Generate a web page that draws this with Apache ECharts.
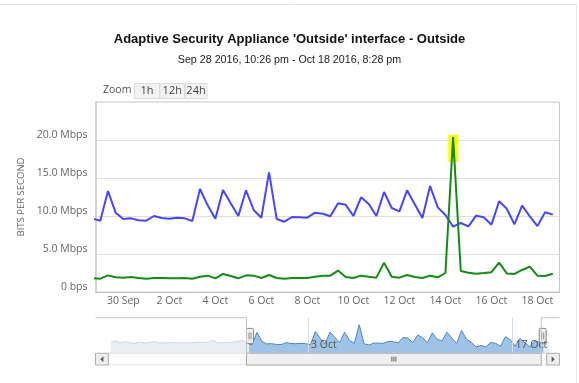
<!DOCTYPE html>
<html>
<head>
<meta charset="utf-8">
<script src="https://cdn.jsdelivr.net/npm/echarts@6/dist/echarts.min.js"></script>
<style>
html,body{margin:0;padding:0;background:#fff;}
#chart{width:579px;height:383px;}
</style>
</head>
<body>
<div id="chart"></div>
<script>
// ---------------- data ----------------
const titleText = "Adaptive Security Appliance 'Outside' interface - Outside";
const subtitleText = "Sep 28 2016, 10:26 pm - Oct 18 2016, 8:28 pm";
const yAxisName = "BITS PER SECOND";

// main series: 8-hour points starting Sep 28 2016 16:00
const seriesStart = Date.UTC(2016, 8, 28, 16);
const stepHours = 8;
const blueValues = [9.65, 9.38, 13.29, 10.44, 9.61, 9.69, 9.43, 9.38, 10.0, 9.74,
  9.65, 9.78, 9.69, 9.34, 13.55, 11.4, 9.65, 13.42, 11.67, 10.0,
  13.38, 10.79, 9.78, 15.75, 9.61, 9.25, 9.87, 9.83, 9.78, 10.44,
  10.3, 9.96, 11.67, 11.47, 10.0, 12.46, 11.58, 10.0, 13.16, 11.05,
  10.61, 13.38, 11.54, 9.74, 13.95, 11.14, 10.13, 8.6, 9.08, 8.64,
  10.04, 9.83, 8.86, 11.93, 10.96, 8.9, 11.36, 9.96, 8.68, 10.49, 10.18];
const greenValues = [1.82, 1.75, 2.19, 1.93, 1.89, 1.97, 1.84, 1.75, 1.84, 1.84,
  1.8, 1.8, 1.84, 1.75, 2.0, 2.15, 1.8, 2.37, 2.1, 1.8,
  2.19, 2.15, 1.84, 2.24, 1.84, 1.75, 1.84, 1.84, 1.84, 2.0,
  2.15, 2.15, 2.82, 1.97, 1.84, 2.15, 2.0, 1.89, 3.86, 2.02,
  1.89, 2.24, 1.97, 1.84, 2.15, 1.93, 2.5, 20.4, 2.76, 2.54,
  2.41, 2.5, 2.6, 3.86, 2.45, 2.37, 2.9, 3.33, 2.15, 2.11, 2.41];

// navigator history (same 8h grid): before and after the main series
const navStart = Date.UTC(2016, 8, 19, 8);
const navPreValues = [10.1, 10.5, 10.0, 10.3, 9.9, 9.8, 10.2, 9.9, 10.0, 10.4,
  9.9, 9.9, 10.0, 10.0, 9.9, 10.0, 9.9, 10.0, 10.2, 10.0,
  10.1, 10.8, 9.9, 10.0, 10.0, 10.2, 10.3, 10.8];
const navPostValues = [10.3, 10.0];

// visible window
const viewStart = Date.UTC(2016, 8, 28, 19);
const viewEnd = Date.UTC(2016, 9, 18, 23);

// axis ticks
const yTickValues = [0, 5, 10, 15, 20];
const yTickLabels = ['0 bps', '5.0 Mbps', '10.0 Mbps', '15.0 Mbps', '20.0 Mbps'];
const xTickDates = [[8,30],[9,2],[9,4],[9,6],[9,8],[9,10],[9,12],[9,14],[9,16],[9,18]];
const xTickLabels = ['30 Sep','2 Oct','4 Oct','6 Oct','8 Oct','10 Oct','12 Oct','14 Oct','16 Oct','18 Oct'];
const navTickDates = [[9,3],[9,17]];
const navTickLabels = ['3 Oct', '17 Oct'];
const zoomButtons = ['1h', '12h', '24h'];

// highlighted spike region (data coordinates)
const highlightFrom = Date.UTC(2016, 9, 14, 3);
const highlightTo = Date.UTC(2016, 9, 14, 13, 30);
const highlightLow = 17.1;
const highlightHigh = 20.7;

// ---------------- build ----------------
const stepMs = stepHours * 3600 * 1000;
const mainTimes = blueValues.map((_, i) => seriesStart + i * stepMs);
const blueData = blueValues.map((v, i) => [mainTimes[i], v]);
const greenData = greenValues.map((v, i) => [mainTimes[i], v]);
const navValues = navPreValues.concat(blueValues, navPostValues);
const navData = navValues.map((v, i) => [navStart + i * stepMs, v]);
const navMin = navData[0][0];
const navMax = navData[navData.length - 1][0];
const xTickTimes = xTickDates.map(d => Date.UTC(2016, d[0], d[1]));
const navTickTimes = navTickDates.map(d => Date.UTC(2016, d[0], d[1]));

const FONT = '"Open Sans", "DejaVu Sans", sans-serif';
const W = 579;
const plotLeft = 95.5, plotRight = 559.5, plotTop = 102, plotBottom = 292;
const navLeft = 108.3, navRight = 546.7, navTop = 317.7, navBottom = 353.3;

const chart = echarts.init(document.getElementById('chart'), null, {renderer: 'canvas'});

function lookup(ticks, labels, tol) {
  return v => { for (let i = 0; i < ticks.length; i++) { if (Math.abs(ticks[i] - v) <= tol) return labels[i]; } return ''; };
}

const option = {
  animation: false,
  backgroundColor: '#ffffff',
  title: [
    {text: titleText, left: 'center', top: 33, padding: 0,
     textStyle: {fontFamily: '"Liberation Sans", Arial, sans-serif', fontSize: 13, fontWeight: 'bold', color: '#111'}},
    {text: subtitleText, left: 'center', top: 55, padding: 0,
     textStyle: {fontFamily: '"Liberation Sans", Arial, sans-serif', fontSize: 10.7, fontWeight: 'normal', color: '#222'}}
  ],
  grid: [
    {left: plotLeft, right: W - plotRight, top: plotTop, height: plotBottom - plotTop,
     show: true, borderColor: '#c8c8c8', borderWidth: 1, backgroundColor: 'transparent'},
    {left: navLeft, right: W - navRight, top: navTop, height: navBottom - navTop, show: false}
  ],
  xAxis: [
    {type: 'value', gridIndex: 0, scale: true,
     axisLine: {show: true, lineStyle: {color: '#c8c8c8'}},
     axisTick: {show: false},
     splitLine: {show: false},
     axisLabel: {customValues: xTickTimes, margin: 4, color: '#666', fontFamily: FONT, fontSize: 10.5,
       formatter: lookup(xTickTimes, xTickLabels, 1000)}},
    {type: 'value', gridIndex: 1, min: navMin, max: navMax, z: 10,
     axisLine: {show: false},
     splitLine: {show: false},
     axisTick: {show: true, inside: true, length: navBottom - navTop, customValues: navTickTimes,
       lineStyle: {color: '#d4dce6', width: 1}},
     axisLabel: {show: true, inside: true, customValues: navTickTimes, margin: 3, align: 'left',
       padding: [0, 0, 0, 3], color: '#555', fontFamily: FONT, fontSize: 10.5,
       formatter: lookup(navTickTimes, navTickLabels, 1000)}}
  ],
  yAxis: [
    {type: 'value', gridIndex: 0, min: 0, max: 25, interval: 5,
     name: yAxisName, nameLocation: 'middle', nameGap: 63,
     nameTextStyle: {color: '#666', fontFamily: FONT, fontSize: 9.5},
     axisLine: {show: true, lineStyle: {color: '#d4d4d4', width: 2}},
     axisTick: {show: false},
     splitLine: {show: true, lineStyle: {color: '#e0e0e0', width: 1}},
     axisLabel: {margin: 8, color: '#666', fontFamily: FONT, fontSize: 10.5,
       verticalAlign: 'bottom', lineHeight: 10,
       formatter: lookup(yTickValues, yTickLabels, 1e-6)}},
    {type: 'value', gridIndex: 1, min: 0, max: 1, show: false}
  ],
  dataZoom: [{
    type: 'slider', xAxisIndex: 0, filterMode: 'none',
    startValue: viewStart, endValue: viewEnd,
    left: navLeft, right: W - navRight, top: navTop, height: navBottom - navTop,
    showDetail: false, brushSelect: false, realtime: false,
    moveHandleSize: 0, moveHandleStyle: {opacity: 0},
    borderColor: 'transparent', backgroundColor: 'transparent',
    fillerColor: 'rgba(0,0,0,0)',
    handleIcon: 'path://M1,0 L6,0 Q7,0 7,1 L7,14 Q7,15 6,15 L1,15 Q0,15 0,14 L0,1 Q0,0 1,0 Z M2.5,4 L2.5,11 M4.5,4 L4.5,11',
    handleSize: 15,
    handleStyle: {color: '#f2f2f2', borderColor: '#8a8a8a', borderWidth: 1},
    dataBackground: {lineStyle: {color: '#c9d6e4', width: 1, opacity: 1},
                     areaStyle: {color: '#e9eef5', opacity: 1}},
    selectedDataBackground: {lineStyle: {color: '#4a86c5', width: 1, opacity: 1},
                             areaStyle: {color: '#9fc3e6', opacity: 1}},
    z: 4
  }],
  series: [
    {name: 'navigator', type: 'line', xAxisIndex: 0, yAxisIndex: 0, data: navData,
     symbol: 'none', silent: true, z: 1, lineStyle: {opacity: 0, width: 0},
     markArea: {silent: true, itemStyle: {color: '#ffff00', opacity: 1},
       data: [[{xAxis: highlightFrom, yAxis: highlightLow}, {xAxis: highlightTo, yAxis: highlightHigh}]]}},
    {name: 'in', type: 'line', xAxisIndex: 0, yAxisIndex: 0, data: blueData,
     symbol: 'none', z: 2, lineStyle: {color: '#4646ff', width: 2}},
    {name: 'out', type: 'line', xAxisIndex: 0, yAxisIndex: 0, data: greenData,
     symbol: 'none', z: 3, lineStyle: {color: '#168a16', width: 2}}
  ]
};
chart.setOption(option);

// ------------- decorations (range selector buttons, navigator outline, scrollbar) -------------
const selL = chart.convertToPixel({xAxisIndex: 1}, viewStart);
const selR = chart.convertToPixel({xAxisIndex: 1}, viewEnd);
const sbTop = navBottom, sbBottom = 365;
const sbMid = (sbTop + sbBottom) / 2;
const g = [];
g.push({type: 'line', shape: {x1: 0, y1: 4.5, x2: 577, y2: 4.5}, style: {stroke: '#e6e6e6', lineWidth: 1}, silent: true});
g.push({type: 'line', shape: {x1: 576.5, y1: 4.5, x2: 576.5, y2: 383}, style: {stroke: '#e6e6e6', lineWidth: 1}, silent: true});
g.push({type: 'text', x: 103, y: 90.5, style: {text: 'Zoom', fill: '#555', font: '10.5px ' + FONT, textVerticalAlign: 'middle'}});
const btnX = [134.5, 160, 185];
const btnW = [25, 24.5, 22];
zoomButtons.forEach((t, i) => {
  g.push({type: 'rect', shape: {x: btnX[i], y: 83.5, width: btnW[i], height: 15},
    style: {fill: '#f2f2f2', stroke: '#dcdcdc', lineWidth: 1}, z: 5});
  g.push({type: 'text', x: btnX[i] + btnW[i] / 2, y: 91, z: 6,
    style: {text: t, fill: '#444', font: '11px ' + FONT, textAlign: 'center', textVerticalAlign: 'middle'}});
});
g.push({type: 'polyline', z: 20, shape: {points: [[plotLeft, navTop], [selL, navTop], [selL, sbTop], [selR, sbTop], [selR, navTop], [plotRight, navTop]]},
  style: {stroke: '#c4c4c4', lineWidth: 1, fill: null}, silent: true});
g.push({type: 'rect', z: 15, shape: {x: navLeft, y: sbTop, width: navRight - navLeft, height: sbBottom - sbTop},
  style: {fill: '#fbfbfb', stroke: '#e2e2e2', lineWidth: 1}});
[[plotLeft, navLeft, -1], [navRight, plotRight, 1]].forEach(b => {
  g.push({type: 'rect', z: 16, shape: {x: b[0], y: sbTop, width: b[1] - b[0], height: sbBottom - sbTop},
    style: {fill: '#eeeeee', stroke: '#b0b0b0', lineWidth: 1}});
  const cx = (b[0] + b[1]) / 2;
  const pts = b[2] < 0 ? [[cx + 1.5, sbMid - 3], [cx + 1.5, sbMid + 3], [cx - 1.5, sbMid]]
                       : [[cx - 1.5, sbMid - 3], [cx - 1.5, sbMid + 3], [cx + 1.5, sbMid]];
  g.push({type: 'polygon', z: 17, shape: {points: pts}, style: {fill: '#555'}});
});
g.push({type: 'rect', z: 16, shape: {x: selL, y: sbTop, width: selR - selL, height: sbBottom - sbTop},
  style: {fill: '#f0f0f0', stroke: '#a8a8a8', lineWidth: 1}});
const tc = (selL + selR) / 2;
[-2, 0, 2].forEach(d => {
  g.push({type: 'line', z: 17, shape: {x1: tc + d, y1: sbMid - 2.5, x2: tc + d, y2: sbMid + 2.5},
    style: {stroke: '#666', lineWidth: 1}});
});
chart.setOption({graphic: g});
</script>
</body>
</html>
